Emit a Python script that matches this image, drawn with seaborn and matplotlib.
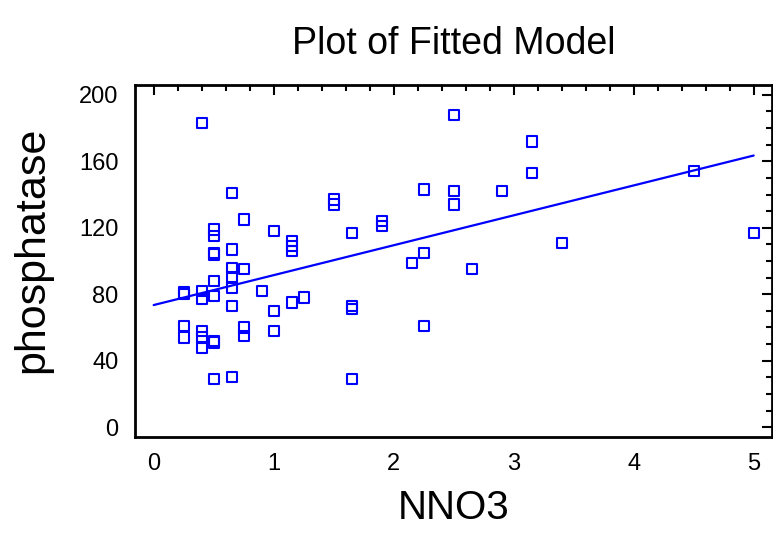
import numpy as np
import pandas as pd
import seaborn as sns
import matplotlib.pyplot as plt
from matplotlib.ticker import MultipleLocator

# values
nno3 = [0.25, 0.25, 0.25, 0.25,
        0.4, 0.4, 0.4, 0.4, 0.4, 0.4,
        0.5, 0.5, 0.5, 0.5, 0.5, 0.5, 0.5, 0.5, 0.5,
        0.65, 0.65, 0.65, 0.65, 0.65, 0.65, 0.65,
        0.75, 0.75, 0.75, 0.75,
        0.9,
        1.0, 1.0, 1.0,
        1.15, 1.15, 1.15, 1.15,
        1.25,
        1.5, 1.5,
        1.65, 1.65, 1.65, 1.65,
        1.9, 1.9,
        2.15,
        2.25, 2.25, 2.25,
        2.5, 2.5, 2.5,
        2.65,
        2.9,
        3.15, 3.15,
        3.4,
        4.5,
        5.0]
phosphatase = [80, 81, 61, 54,
               183, 82, 77, 58, 54, 48,
               119, 115, 105, 104, 88, 79, 52, 51, 29,
               141, 107, 96, 90, 84, 73, 30,
               125, 95, 60, 55,
               82,
               118, 70, 58,
               112, 109, 106, 75,
               78,
               137, 134,
               117, 73, 71, 29,
               124, 121,
               99,
               143, 105, 61,
               188, 142, 134,
               95,
               142,
               172, 153,
               111,
               154,
               117]

# fitted model: phosphatase = b0 + b1 * NNO3
fit_intercept = 73.5
fit_slope = 18.0

df = pd.DataFrame({"NNO3": nno3, "phosphatase": phosphatase})
grid = np.linspace(0, 5, 40)
fit = pd.DataFrame({"NNO3": grid, "phosphatase": fit_intercept + fit_slope * grid})

sns.set_style("white")
plt.rcParams['font.family'] = ['Liberation Sans', 'DejaVu Sans']
for k in ['text.color', 'axes.labelcolor', 'xtick.color', 'ytick.color']:
    plt.rcParams[k] = 'black'

fig = plt.figure(figsize=(7.73, 5.34), dpi=100)
ax = fig.add_axes([0.1746, 0.182, 0.8237, 0.659])

blue = "#0000ff"
sns.scatterplot(data=df, x="NNO3", y="phosphatase", ax=ax, marker="s", s=55,
                facecolors="none", edgecolor=blue, linewidth=1.5)
sns.lineplot(data=fit, x="NNO3", y="phosphatase", ax=ax, color=blue, lw=1.6)

ax.set_xlim(-0.156, 5.15)
ax.set_ylim(-5.8, 206)
ax.xaxis.set_major_locator(MultipleLocator(1))
ax.xaxis.set_minor_locator(MultipleLocator(0.2))
ax.yaxis.set_major_locator(MultipleLocator(40))
ax.yaxis.set_minor_locator(MultipleLocator(10))
ax.tick_params(which="both", direction="in", top=True, right=True, colors="black",
               width=1.5)
ax.tick_params(which="major", length=7, labelsize=17, pad=12)
ax.tick_params(which="minor", length=4)
for sp in ax.spines.values():
    sp.set_color("black")
    sp.set_linewidth(2)

ax.set_xlabel("NNO3", fontsize=29, labelpad=10)
ax.set_ylabel("phosphatase", fontsize=31)
ax.yaxis.set_label_coords(-0.13, 0.53)
ax.set_title("Plot of Fitted Model", fontsize=27, pad=22)

fig.savefig("out.png", dpi=100)
